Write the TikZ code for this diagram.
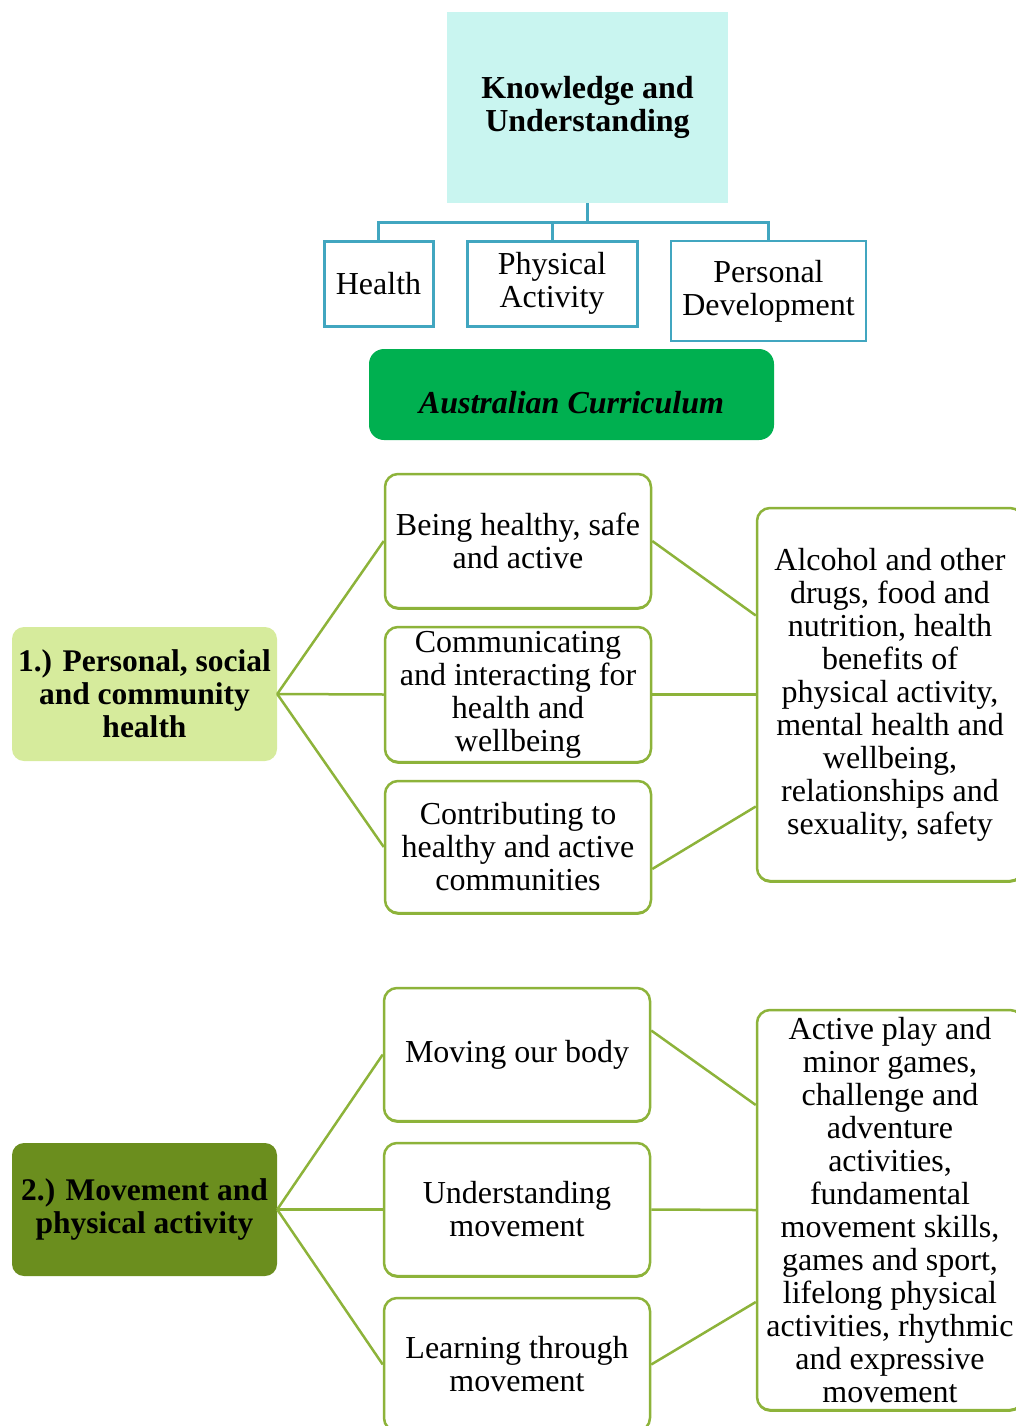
\documentclass[tikz,border=0pt]{standalone}
\usepackage{fontspec}
\setmainfont{Liberation Serif}
\usetikzlibrary{shadows}
\definecolor{kucyan}{HTML}{C9F5F0}
\definecolor{tealline}{HTML}{41A6C0}
\definecolor{acgreen}{HTML}{00B050}
\definecolor{oliveline}{HTML}{8DB33A}
\definecolor{lightgreen}{HTML}{D6EB9C}
\definecolor{darkolive}{HTML}{6B8E1E}
\tikzset{
  txt/.style={font=\fontsize{32}{33}\selectfont, align=center, inner sep=0pt},
  topbox/.style={txt, fill=kucyan, font=\fontsize{32}{33}\selectfont\bfseries},
  tealbox/.style={txt, draw=tealline, line width=3pt, fill=white},
  acbox/.style={txt, fill=acgreen, rounded corners=15pt, font=\fontsize{32}{34}\selectfont\bfseries\itshape},
  grbox/.style={txt, draw=oliveline, line width=2.5pt, rounded corners=13pt, fill=white,
    drop shadow={shadow xshift=0pt, shadow yshift=-1.8pt, fill=oliveline, opacity=1}},
  areabox/.style={txt, rounded corners=12pt, font=\fontsize{31.5}{33}\selectfont\bfseries},
  tree/.style={draw=tealline, line width=3pt},
  link/.style={draw=oliveline, line width=2.5pt},
}
\begin{document}
\begin{tikzpicture}[x=1pt, y=-1pt]
\useasboundingbox (0,0) rectangle (1016,1426);

% heading and its three strands
\node[topbox, minimum width=281pt, minimum height=191pt] (ku) at (587.5,107.5) {Knowledge and\\Understanding};
\node[tealbox, minimum width=109pt, minimum height=85pt] (health) at (378.5,283.5) {Health};
\node[tealbox, minimum width=170pt, minimum height=85pt] (phys) at (552,283.5) {Physical\\Activity};
\node[tealbox, line width=2pt, minimum width=195pt, minimum height=100pt] (pers) at (768.5,291) {Personal\\Development};
\coordinate (bar) at (587.5,222);
\draw[tree] (ku.south) -- (bar);
\draw[tree] (health.north) |- (bar) -| (pers.north);
\draw[tree] (phys.north) -- (phys.north |- bar);

\node[acbox, text height=38pt, text depth=0pt, minimum width=405pt, minimum height=91pt] (ac) at (571.5,394.5) {Australian Curriculum};

% strand 1
\node[areabox, fill=lightgreen, minimum width=265pt, minimum height=134pt] (a1) at (144.5,694) {1.) Personal, social\\and community\\health};
\node[grbox, minimum width=266pt, minimum height=134pt] (b1) at (518,541) {Being healthy, safe\\and active};
\node[grbox, minimum width=266pt, minimum height=135pt] (b2) at (518,694.5) {Communicating\\and interacting for\\health and\\wellbeing};
\node[grbox, minimum width=266pt, minimum height=132pt] (b3) at (518,847) {Contributing to\\healthy and active\\communities};
\node[grbox, minimum width=266pt, minimum height=373pt] (c1) at (890,694.5) {Alcohol and other\\drugs, food and\\nutrition, health\\benefits of\\physical activity,\\mental health and\\wellbeing,\\relationships and\\sexuality, safety};
\draw[link] (a1.east) -- (b1.west);
\draw[link] (a1.east) -- (b2.west);
\draw[link] (a1.east) -- (b3.west);
\draw[link] (b1.east) -- ([yshift=79pt]c1.west);
\draw[link] (b2.east) -- (c1.west);
\draw[link] ([yshift=-22pt]b3.east) -- ([yshift=-112pt]c1.west);

% strand 2
\node[areabox, fill=darkolive, minimum width=265pt, minimum height=133pt] (a2) at (144.5,1209.5) {2.) Movement and\\physical activity};
\node[grbox, minimum width=266pt, minimum height=133pt] (d1) at (517,1054.5) {Moving our body};
\node[grbox, minimum width=266pt, minimum height=133pt] (d2) at (517,1209.5) {Understanding\\movement};
\node[grbox, minimum width=266pt, minimum height=133pt] (d3) at (517,1364.5) {Learning through\\movement};
\node[grbox, minimum width=266pt, minimum height=400pt] (c2) at (890,1210) {Active play and\\minor games,\\challenge and\\adventure\\activities,\\fundamental\\movement skills,\\games and sport,\\lifelong physical\\activities, rhythmic\\and expressive\\movement};
\draw[link] (a2.east) -- (d1.west);
\draw[link] (a2.east) -- (d2.west);
\draw[link] (a2.east) -- (d3.west);
\draw[link] ([yshift=24pt]d1.east) -- ([yshift=105pt]c2.west);
\draw[link] (d2.east) -- (c2.west);
\draw[link] (d3.east) -- ([yshift=-92pt]c2.west);
\end{tikzpicture}
\end{document}
